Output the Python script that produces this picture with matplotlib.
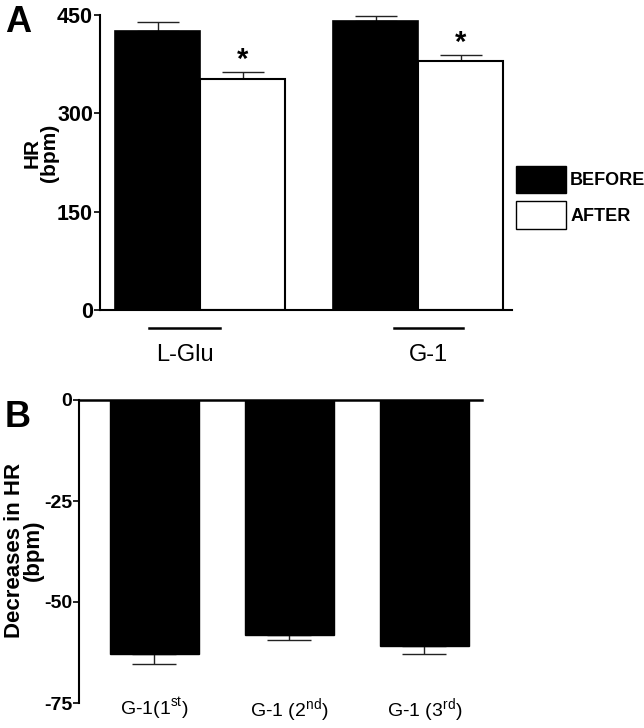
import matplotlib
matplotlib.use('Agg')
import matplotlib.pyplot as plt
import matplotlib.patches as mpatches
import numpy as np

plt.rcParams['font.family'] = ['Liberation Sans', 'DejaVu Sans']
plt.rcParams['mathtext.fontset'] = 'custom'
plt.rcParams['mathtext.rm'] = 'Liberation Sans'
plt.rcParams['axes.unicode_minus'] = False

# panel A: HR before / after microinjection
groups = ['L-Glu', 'G-1']
before = [426, 441]
before_err = [13, 8]
after = [352, 380]
after_err = [11, 9]

# panel B: decreases in HR for repeated G-1
treat = ['G-1(1$^{\\mathrm{st}}$)', 'G-1 (2$^{\\mathrm{nd}}$)', 'G-1 (3$^{\\mathrm{rd}}$)']
decrease = [-62.8, -58.1, -60.8]
decrease_err = [2.6, 1.2, 2.0]

W, H = 644, 728
fig = plt.figure(figsize=(W / 100, H / 100), dpi=100)

# ---- panel A ----
axA = fig.add_axes([100 / W, 1 - 310 / H, 412 / W, 295 / H])
x = np.arange(len(groups))
w = 0.39
axA.errorbar(x - w / 2, before, yerr=[np.zeros(2), before_err], fmt='none',
             ecolor='#222222', elinewidth=1, capsize=15, capthick=1, zorder=1)
axA.errorbar(x + w / 2, after, yerr=[np.zeros(2), after_err], fmt='none',
             ecolor='#222222', elinewidth=1, capsize=15, capthick=1, zorder=1)
axA.bar(x - w / 2, before, w, color='black', edgecolor='black', lw=1.2, zorder=2)
axA.bar(x + w / 2, after, w, color='white', edgecolor='black', lw=1.5, zorder=2)
for xi, v, e in zip(x, after, after_err):
    axA.text(xi + w / 2, v + e - 3, '*', ha='center', va='bottom',
             fontsize=21, fontweight='bold')

axA.set_xlim(-0.459, 1.431)
axA.set_ylim(0, 450)
axA.set_yticks([0, 150, 300, 450])
axA.set_xticks([])
axA.tick_params(axis='y', length=4, width=1.2, labelsize=15.5, pad=1)
for t in axA.get_yticklabels():
    t.set_fontweight('bold')
for s in ['top', 'right']:
    axA.spines[s].set_visible(False)
axA.spines['left'].set_linewidth(1.5)
axA.spines['bottom'].set_linewidth(1.5)

# group underlines and names below the axis
spans = [(-0.234, 0.092), (0.890, 1.206)]
for (a, b), name in zip(spans, groups):
    axA.plot([a, b], [-27.5, -27.5], color='black', lw=1.8, clip_on=False)
    axA.text((a + b) / 2, -68, name, ha='center', va='center', fontsize=17)

handles = [mpatches.Patch(facecolor='black', edgecolor='black', label='BEFORE'),
           mpatches.Patch(facecolor='white', edgecolor='black', label='AFTER')]
leg = fig.legend(handles=handles, loc='upper left', bbox_to_anchor=(516 / W, 1 - 166 / H),
                 frameon=False, handlelength=2.75, handleheight=1.95, labelspacing=0.45,
                 handletextpad=0.25, borderpad=0, borderaxespad=0,
                 prop={'size': 13, 'weight': 'bold'})

fig.text(41 / W, 1 - 153 / H, 'HR\n(bpm)', rotation=90, ha='center', va='center',
         fontsize=15, fontweight='bold', linespacing=0.9)
fig.text(5 / W, 1 - 23 / H, 'A', ha='left', va='center', fontsize=26, fontweight='bold')

# ---- panel B ----
axB = fig.add_axes([79 / W, 1 - 703 / H, 403 / W, 303 / H])
xb = np.arange(len(treat))
wb = 0.66
axB.errorbar(xb, decrease, yerr=[decrease_err, np.zeros(3)], fmt='none',
             ecolor='#222222', elinewidth=1, capsize=16, capthick=1, zorder=1)
axB.bar(xb, decrease, wb, color='black', edgecolor='black', zorder=2)
axB.set_xlim(-0.559, 2.426)
axB.set_ylim(-75, 0)
axB.set_yticks([0, -25, -50, -75])
axB.set_xticks(xb, treat)
axB.tick_params(axis='x', length=0, labelsize=14, pad=-5)
axB.tick_params(axis='y', length=4, width=1.2, labelsize=14, pad=1)
for t in axB.get_yticklabels():
    t.set_fontweight('bold')
for s in ['bottom', 'right']:
    axB.spines[s].set_visible(False)
axB.spines['left'].set_linewidth(1.5)
axB.spines['top'].set_linewidth(1.8)

fig.text(24 / W, 1 - 550 / H, 'Decreases in HR\n(bpm)', rotation=90, ha='center',
         va='center', fontsize=16, fontweight='bold', linespacing=0.9)
fig.text(5 / W, 1 - 418 / H, 'B', ha='left', va='center', fontsize=26, fontweight='bold')

fig.savefig('out.png', dpi=100)
